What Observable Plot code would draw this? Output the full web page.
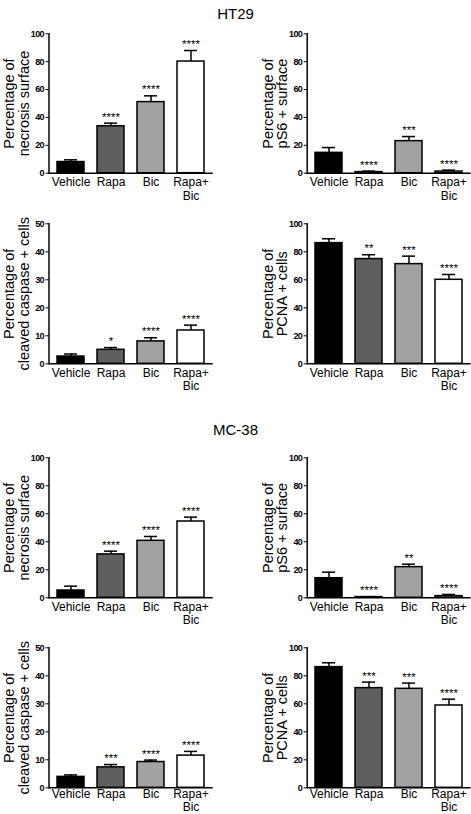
<!DOCTYPE html>
<html><head><meta charset="utf-8">
<script src="https://cdn.jsdelivr.net/npm/d3@7"></script>
<script src="https://cdn.jsdelivr.net/npm/@observablehq/plot@0.6"></script>
<style>
body{margin:0;background:#fff;}
#root{position:relative;width:471px;height:814px;overflow:hidden;background:#fff;font-family:"Liberation Sans",Arial,sans-serif;}
.title{position:absolute;left:0;width:471px;text-align:center;font-size:15px;line-height:15px;color:#000;}
.panel{position:absolute;}
.panel svg{overflow:visible;display:block;}
.panel svg g[aria-label="y-axis tick label"] text{letter-spacing:-0.6px;}
</style></head><body><div id="root"></div>
<script>
const categories = ["Vehicle", "Rapa", "Bic", "Rapa+Bic"];
const tickLabels = ["Vehicle", "Rapa", "Bic", "Rapa+\nBic"];
const fills = ["#000000", "#5f5f5f", "#a2a2a2", "#ffffff"];
const titles = ["HT29", "MC-38"];
const yLabels = ["Percentage of\nnecrosis surface", "Percentage of\npS6 + surface", "Percentage of\ncleaved caspase + cells", "Percentage of\nPCNA + cells"];

// HT29
const ht29Necrosis = [8.0, 33.7, 51.0, 80.1];
const ht29NecrosisErr = [9.6, 35.9, 55.5, 88.0];
const ht29NecrosisStars = ["", "****", "****", "****"];
const ht29PS6 = [14.6, 0.8, 23.0, 1.2];
const ht29PS6Err = [18.4, 1.5, 26.3, 2.2];
const ht29PS6Stars = ["", "****", "***", "****"];
const ht29Caspase = [2.6, 5.0, 8.0, 11.9];
const ht29CaspaseErr = [3.5, 5.8, 9.3, 13.8];
const ht29CaspaseStars = ["", "*", "****", "****"];
const ht29PCNA = [86.2, 74.8, 71.2, 60.0];
const ht29PCNAErr = [89.3, 77.9, 76.9, 63.8];
const ht29PCNAStars = ["", "**", "***", "****"];

// MC-38
const mc38Necrosis = [5.2, 31.0, 40.7, 54.5];
const mc38NecrosisErr = [8.3, 33.3, 43.8, 57.6];
const mc38NecrosisStars = ["", "****", "****", "****"];
const mc38PS6 = [14.0, 0.5, 21.9, 1.2];
const mc38PS6Err = [18.3, 0.8, 24.0, 2.4];
const mc38PS6Stars = ["", "****", "**", "****"];
const mc38Caspase = [3.9, 7.3, 9.2, 11.5];
const mc38CaspaseErr = [4.6, 8.3, 9.9, 13.0];
const mc38CaspaseStars = ["", "***", "****", "****"];
const mc38PCNA = [86.2, 71.2, 70.7, 58.8];
const mc38PCNAErr = [89.3, 75.5, 74.8, 63.3];
const mc38PCNAStars = ["", "***", "***", "****"];

const root = document.getElementById("root");
const regular = "'Liberation Sans',Arial,sans-serif";

function addTitle(text, top) {
  const d = document.createElement("div");
  d.className = "title";
  d.style.top = top + "px";
  d.textContent = text;
  root.appendChild(d);
}

function panel(o) {
  const data = categories.map((c, i) => ({cat: c, value: o.values[i], err: o.errors[i], star: o.stars[i]}));
  const chart = Plot.plot({
    width: o.width, height: o.height,
    marginTop: o.mTop, marginBottom: o.mBottom, marginLeft: o.mLeft, marginRight: o.mRight,
    style: {background: "transparent", fontFamily: regular, overflow: "visible"},
    x: {type: "band", domain: categories, paddingInner: 0.32, paddingOuter: 0.2, align: 0.5},
    y: {domain: [0, o.yMax]},
    color: {type: "ordinal", domain: categories, range: fills},
    marks: [
      Plot.barY(data, {x: "cat", y: "value", fill: "cat", stroke: "#000", strokeWidth: 1.5}),
      Plot.ruleX(data, {x: "cat", y1: "value", y2: "err", stroke: "#000", strokeWidth: 1.5}),
      Plot.tickY(data, {x: "cat", y: "err", stroke: "#000", strokeWidth: 1.5, insetLeft: 7, insetRight: 7}),
      Plot.text(data, {x: "cat", y: "err", text: "star", lineAnchor: "bottom", dy: -2.5, fontSize: 11.5, fontFamily: regular}),
      Plot.ruleY([0], {stroke: "#000", strokeWidth: 1.5}),
      Plot.frame({anchor: "left", stroke: "#000", strokeWidth: 1.5}),
      Plot.axisY({ticks: d3.range(0, o.yMax + 1, o.yStep), tickSize: 3, tickPadding: 2, fontFamily: regular, fontWeight: "bold", fontSize: 9, label: null}),
      Plot.axisX({tickSize: 0, tickPadding: o.xPad, tickFormat: d => tickLabels[categories.indexOf(d)], fontSize: 12, fontFamily: regular, lineHeight: o.xLh, label: null}),
      Plot.text([o.label], {frameAnchor: "left", text: d => d, rotate: -90, textAnchor: "middle", lineAnchor: "middle", dx: -32, fontSize: 14.5, lineHeight: 1, fontFamily: regular})
    ]
  });
  const div = document.createElement("div");
  div.className = "panel";
  div.style.left = o.left + "px";
  div.style.top = o.top + "px";
  div.appendChild(chart);
  root.appendChild(div);
}

const L = {left: 0, width: 235, mLeft: 48.5, mRight: 22.3};
const R = {left: 235, width: 236, mLeft: 71.7, mRight: 0.5};
const rows = [
  {top: 0, height: 210, mTop: 33.3, mBottom: 37.3, xPad: 3, xLh: 1.15},
  {top: 210, height: 200, mTop: 13.3, mBottom: 46.7, xPad: 3, xLh: 1.15},
  {top: 440, height: 195, mTop: 17.3, mBottom: 37.7, xPad: 3, xLh: 1.15},
  {top: 635, height: 179, mTop: 12.3, mBottom: 26.7, xPad: 1, xLh: 1.08}
];

addTitle(titles[0], 6.3);
addTitle(titles[1], 422.3);

panel({...L, ...rows[0], values: ht29Necrosis, errors: ht29NecrosisErr, stars: ht29NecrosisStars, label: yLabels[0], yMax: 100, yStep: 20});
panel({...R, ...rows[0], values: ht29PS6, errors: ht29PS6Err, stars: ht29PS6Stars, label: yLabels[1], yMax: 100, yStep: 20});
panel({...L, ...rows[1], values: ht29Caspase, errors: ht29CaspaseErr, stars: ht29CaspaseStars, label: yLabels[2], yMax: 50, yStep: 10});
panel({...R, ...rows[1], values: ht29PCNA, errors: ht29PCNAErr, stars: ht29PCNAStars, label: yLabels[3], yMax: 100, yStep: 20});
panel({...L, ...rows[2], values: mc38Necrosis, errors: mc38NecrosisErr, stars: mc38NecrosisStars, label: yLabels[0], yMax: 100, yStep: 20});
panel({...R, ...rows[2], values: mc38PS6, errors: mc38PS6Err, stars: mc38PS6Stars, label: yLabels[1], yMax: 100, yStep: 20});
panel({...L, ...rows[3], values: mc38Caspase, errors: mc38CaspaseErr, stars: mc38CaspaseStars, label: yLabels[2], yMax: 50, yStep: 10});
panel({...R, ...rows[3], values: mc38PCNA, errors: mc38PCNAErr, stars: mc38PCNAStars, label: yLabels[3], yMax: 100, yStep: 20});
</script>
</body></html>
